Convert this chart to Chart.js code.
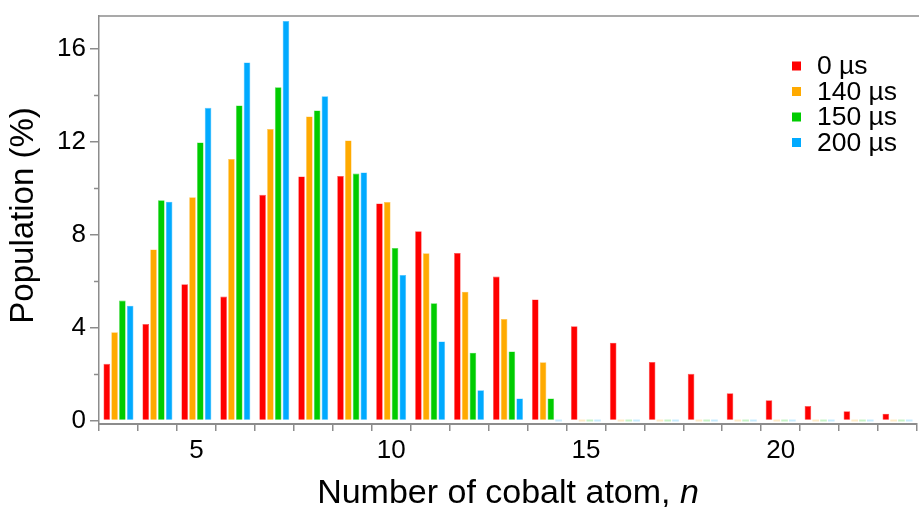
<!DOCTYPE html>
<html>
<head>
<meta charset="utf-8">
<script src="https://cdn.jsdelivr.net/npm/chart.js@4/dist/chart.umd.min.js"></script>
<style>
  html, body { margin: 0; padding: 0; background: #fff; }
  #wrap { width: 919px; height: 507px; }
</style>
</head>
<body>
<div id="wrap"><canvas id="cobalt-chart" width="919" height="507"></canvas></div>
<script>
// cluster size n
var sizes = ["3","4","5","6","7","8","9","10","11","12","13","14","15","16","17","18","19","20","21","22","23"];

// population (%) per delay time
var pop0   = [2.44, 4.15, 5.86, 5.33, 9.71, 10.50, 10.52, 9.34, 8.14, 7.21, 6.19, 5.21, 4.05, 3.35, 2.52, 2.01, 1.17, 0.87, 0.62, 0.40, 0.29];
var pop140 = [3.80, 7.36, 9.60, 11.25, 12.54, 13.08, 12.05, 9.40, 7.19, 5.54, 4.37, 2.51, 0, 0, 0, 0, 0, 0, 0, 0, 0];
var pop150 = [5.16, 9.47, 11.96, 13.55, 14.33, 13.34, 10.62, 7.42, 5.04, 2.92, 2.97, 0.95, 0, 0, 0, 0, 0, 0, 0, 0, 0];
var pop200 = [4.94, 9.41, 13.45, 15.40, 17.19, 13.95, 10.67, 6.26, 3.40, 1.30, 0.95, 0, 0, 0, 0, 0, 0, 0, 0, 0, 0];

var seriesNames = ["0 \u00b5s", "140 \u00b5s", "150 \u00b5s", "200 \u00b5s"];
var yTicks = [0, 2, 4, 6, 8, 10, 12, 14, 16];

var colors = [[255, 0, 0], [255, 170, 0], [0, 204, 0], [0, 170, 255]];
var FONT = "'Liberation Sans', Arial, sans-serif";
var AXIS = "#8c8c8c";

function rgba(c, a) { return "rgba(" + c[0] + "," + c[1] + "," + c[2] + "," + a + ")"; }

function makeSet(label, data, c) {
  return {
    label: label,
    data: data,
    backgroundColor: function (ctx) { return ctx.raw === 0 ? rgba(c, 0.22) : rgba(c, 1); },
    borderColor: rgba(c, 0.7),
    borderWidth: function (ctx) { return ctx.raw === 0 ? 0 : 0.6; },
    borderSkipped: "start",
    minBarLength: 2,
    categoryPercentage: 0.8,
    barPercentage: 0.85
  };
}

// frame line on top, minor y ticks, legend and x title with italic n
var extras = {
  id: "extras",
  afterDraw: function (chart) {
    var c = chart.ctx, a = chart.chartArea, y = chart.scales.y;
    c.save();
    c.strokeStyle = AXIS;
    c.lineWidth = 1.5;
    c.beginPath();
    c.moveTo(a.left, a.top);
    c.lineTo(chart.width, a.top);
    c.stroke();

    yTicks.forEach(function (v) {
      if (v % 4 === 0) return;
      var py = Math.round(y.getPixelForValue(v)) + 0.5;
      c.beginPath();
      c.moveTo(a.left - 5, py);
      c.lineTo(a.left, py);
      c.stroke();
    });

    // legend
    c.textBaseline = "middle";
    c.textAlign = "left";
    c.font = "26.5px " + FONT;
    chart.data.datasets.forEach(function (ds, i) {
      var cy = 66 + i * 25.5;
      c.fillStyle = rgba(colors[i], 1);
      c.fillRect(792, cy - 4.5, 9, 9);
      c.fillStyle = "#000";
      c.fillText(ds.label, 817, cy + 1);
    });

    // x title
    var main = "Number of cobalt atom, ";
    c.font = "34px " + FONT;
    var w1 = c.measureText(main).width;
    c.font = "italic 34px " + FONT;
    var w2 = c.measureText("n").width;
    var x0 = (a.left + a.right) / 2 - (w1 + w2) / 2;
    c.textBaseline = "alphabetic";
    c.fillStyle = "#000";
    c.font = "34px " + FONT;
    c.fillText(main, x0, 503);
    c.font = "italic 34px " + FONT;
    c.fillText("n", x0 + w1, 503);
    c.restore();
  }
};

new Chart(document.getElementById("cobalt-chart"), {
  type: "bar",
  data: {
    labels: sizes,
    datasets: [
      makeSet(seriesNames[0], pop0, colors[0]),
      makeSet(seriesNames[1], pop140, colors[1]),
      makeSet(seriesNames[2], pop150, colors[2]),
      makeSet(seriesNames[3], pop200, colors[3])
    ]
  },
  options: {
    responsive: false,
    animation: false,
    layout: { padding: { top: 16, right: 2, left: 0, bottom: 0 } },
    plugins: {
      legend: { display: false },
      tooltip: { enabled: false }
    },
    scales: {
      x: {
        afterFit: function (s) { s.height = 83; s.paddingLeft = 0; s.paddingRight = 0; },
        grid: { display: true, drawOnChartArea: false, offset: true, tickLength: 7, color: AXIS, lineWidth: 1.5 },
        border: { display: true, color: AXIS, width: 2 },
        ticks: {
          autoSkip: false,
          maxRotation: 0,
          padding: 4,
          color: "#000",
          font: { family: FONT, size: 26 },
          callback: function (v, i) { return Number(sizes[i]) % 5 === 0 ? sizes[i] : ""; }
        }
      },
      y: {
        min: -0.15,
        max: 17.4,
        afterFit: function (s) { s.width = 99; s.paddingTop = 0; s.paddingBottom = 0; },
        afterBuildTicks: function (s) { s.ticks = yTicks.map(function (v) { return { value: v }; }); },
        grid: {
          drawOnChartArea: false,
          tickLength: 9,
          lineWidth: 1.5,
          tickColor: function (ctx) { return ctx.tick && ctx.tick.value % 4 === 0 ? AXIS : "rgba(0,0,0,0)"; }
        },
        border: { display: true, color: AXIS, width: 1.5 },
        ticks: {
          padding: 4,
          color: "#000",
          font: { family: FONT, size: 26 },
          callback: function (v) { return v % 4 === 0 ? v : ""; }
        },
        title: {
          display: true,
          text: " Population (%)",
          color: "#000",
          font: { family: FONT, size: 33 },
          padding: { top: 4, bottom: 0 }
        }
      }
    }
  },
  plugins: [extras]
});
</script>
</body>
</html>
